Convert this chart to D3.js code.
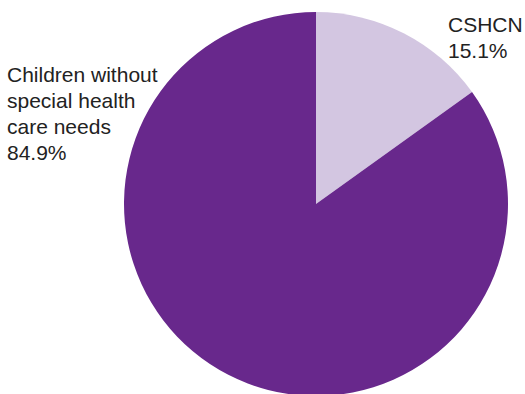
<!DOCTYPE html>
<html><head><meta charset="utf-8">
<script src="https://cdn.jsdelivr.net/npm/d3@7/dist/d3.min.js"></script>
<style>html,body{margin:0;padding:0;background:#fff;}svg{display:block;}</style>
</head><body>
<svg id="chart" width="525" height="394"></svg>
<script>
const categories = ["CSHCN", "Children without special health care needs"];
const values = [15.1, 84.9];
const colors = ["#D3C6E1", "#68288C"];
const labelLines = [["CSHCN", "15.1%"], ["Children without", "special health", "care needs", "84.9%"]];

const svg = d3.select("#chart");
const cx = 316, cy = 204, r = 192;
const pie = d3.pie().sort(null).value(d => d)(values);
const arc = d3.arc().innerRadius(0).outerRadius(r);
svg.append("g").attr("transform", `translate(${cx},${cy})`)
  .selectAll("path").data(pie).join("path")
  .attr("d", arc).attr("fill", (d, i) => colors[i]);

const labelPos = [{x: 448, y: 32}, {x: 7, y: 82}];
labelLines.forEach((lines, i) => {
  const t = svg.append("text")
    .attr("font-family", "Liberation Sans, Arial, sans-serif")
    .attr("font-size", 21).attr("fill", "#222");
  lines.forEach((l, j) => t.append("tspan")
    .attr("x", labelPos[i].x).attr("y", labelPos[i].y + j * 26).text(l));
});
</script>
</body></html>
